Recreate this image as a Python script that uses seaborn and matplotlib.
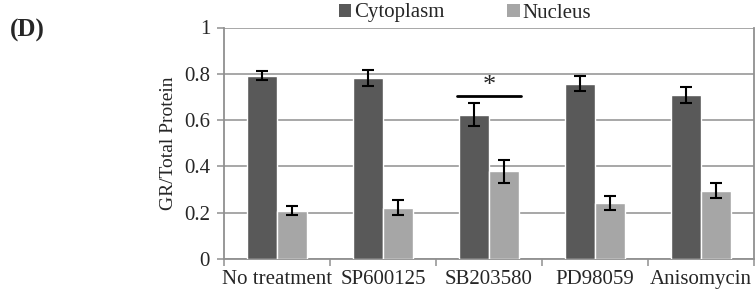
import numpy as np
import pandas as pd
import seaborn as sns
import matplotlib.pyplot as plt
from matplotlib.patches import Patch

treatments = ['No treatment', 'SP600125', 'SB203580', 'PD98059', 'Anisomycin']
cyto = [0.792, 0.782, 0.624, 0.757, 0.709]
cyto_err = [0.02, 0.033, 0.048, 0.032, 0.036]
nuc = [0.208, 0.221, 0.378, 0.243, 0.295]
nuc_err = [0.02, 0.033, 0.049, 0.031, 0.032]
fractions = ['Cytoplasm', 'Nucleus']
colors = ['#595959', '#a6a6a6']

df = pd.DataFrame({
    'treatment': treatments * 2,
    'fraction': ['Cytoplasm'] * 5 + ['Nucleus'] * 5,
    'value': cyto + nuc,
})
errs = {'Cytoplasm': cyto_err, 'Nucleus': nuc_err}

sns.set_style('white')
plt.rcParams['font.family'] = ['Liberation Serif', 'DejaVu Serif']

fig = plt.figure(figsize=(7.56, 2.95), dpi=100)
ax = fig.add_axes([224 / 756, 1 - 259 / 295, 530 / 756, 231.5 / 295])

sns.barplot(data=df, x='treatment', y='value', hue='fraction', order=treatments,
            hue_order=fractions, palette=colors, width=0.57, errorbar=None,
            saturation=1, ax=ax, zorder=3, legend=False)

for cont, frac in zip(ax.containers, fractions):
    xs = [p.get_x() + p.get_width() / 2 for p in cont]
    ys = [p.get_height() for p in cont]
    ax.errorbar(xs, ys, yerr=errs[frac], fmt='none', ecolor='black',
                elinewidth=1.5, capsize=4.5, capthick=1.5, zorder=4)

# significance marker over SB203580
ax.plot([1.7, 2.3], [0.703, 0.703], color='black', lw=2, zorder=4)
ax.text(2.0, 0.700, '*', ha='center', va='bottom', fontsize=19)

ax.set_ylim(0, 1)
ax.set_xlim(-0.5, 4.5)
ax.set_yticks([0, 0.2, 0.4, 0.6, 0.8, 1])
ax.set_yticklabels(['0', '0.2', '0.4', '0.6', '0.8', '1'])
ax.yaxis.grid(True, color='#a0a0a0', lw=1.3, zorder=0)
ax.set_axisbelow(True)
for s in ['left', 'bottom', 'right']:
    ax.spines[s].set_visible(True)
    ax.spines[s].set_color('#909090')
    ax.spines[s].set_linewidth(1.3)
ax.spines['top'].set_visible(False)
ax.tick_params(axis='y', length=5, width=1.3, color='#a0a0a0', labelsize=15, pad=5,
               left=True)
ax.tick_params(axis='x', length=0, labelsize=15, pad=8)
ax.set_xticks(range(5), minor=False)
ax.set_xticks(np.arange(-0.5, 5, 1), minor=True)
ax.tick_params(axis='x', which='minor', length=5, width=1.3, color='#a0a0a0', bottom=True)
ax.set_xlabel('')
ax.set_ylabel('GR/Total Protein', fontsize=14, labelpad=5)

handles = [Patch(facecolor=c, edgecolor='none') for c in colors]
fig.legend(handles, fractions, loc='center', bbox_to_anchor=(465 / 756, 1 - 13 / 295),
           ncol=2, frameon=False, prop={'family': 'Liberation Serif', 'size': 15},
           handlelength=0.6, handleheight=0.6, handletextpad=0.15, columnspacing=3.0)

fig.text(10 / 756, 1 - 30 / 295, '(D)', fontsize=18, fontweight='bold', va='center')

fig.savefig('out.png', dpi=100)
